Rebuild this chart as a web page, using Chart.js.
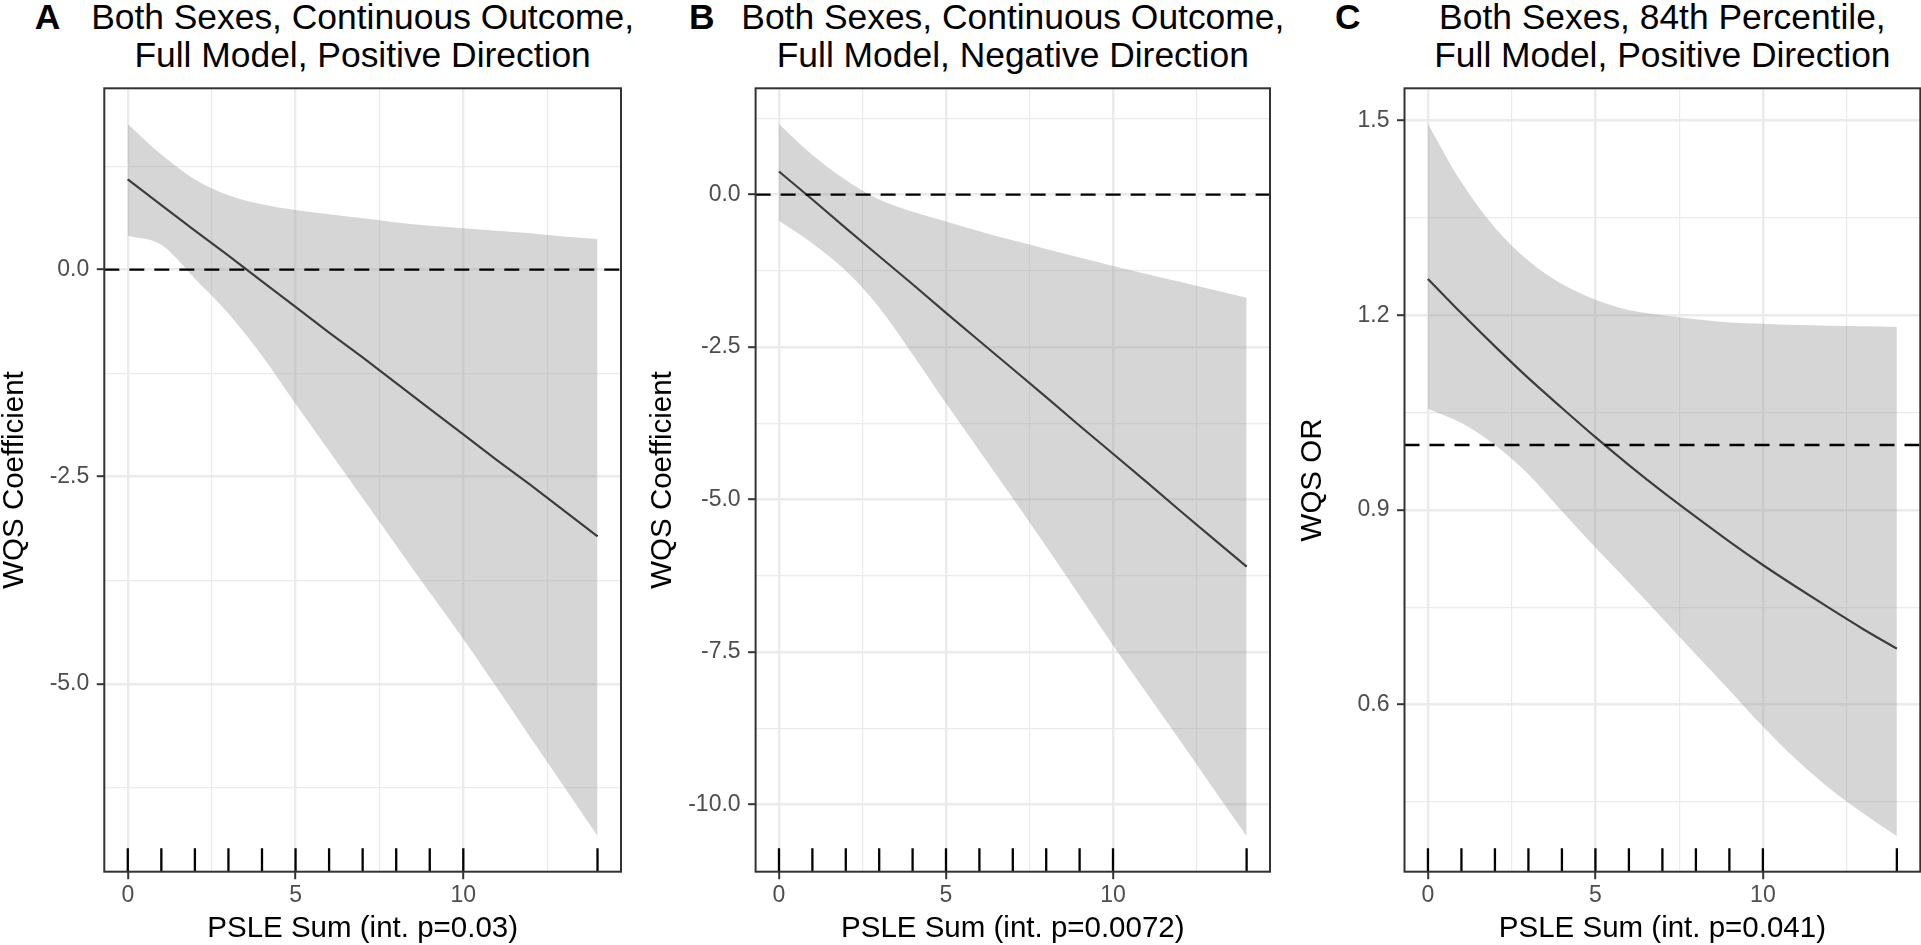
<!DOCTYPE html>
<html>
<head>
<meta charset="utf-8">
<script src="https://cdn.jsdelivr.net/npm/chart.js@4/dist/chart.umd.min.js"></script>
<style>
  html, body { margin:0; padding:0; background:#fff; overflow:hidden; width:1921px; height:945px; }
  canvas { position:absolute; top:0; }
  .tag { position:absolute; top:-2.3px; font:bold 35.4px "Liberation Sans", Arial, sans-serif; line-height:38px; color:#000; }
  .title { position:absolute; top:-2.3px; width:800px; text-align:center; font:35.4px "Liberation Sans", Arial, sans-serif; line-height:38px; color:#000; white-space:nowrap; }
</style>
</head>
<body>
<div class="tag" style="left:34.7px">A</div>
<div class="title" style="left:-37.4px">Both Sexes, Continuous Outcome,<br>Full Model, Positive Direction</div>
<div class="tag" style="left:689px">B</div>
<div class="title" style="left:612.8px">Both Sexes, Continuous Outcome,<br>Full Model, Negative Direction</div>
<div class="tag" style="left:1335px">C</div>
<div class="title" style="left:1262.4px">Both Sexes, 84th Percentile,<br>Full Model, Positive Direction</div>

<canvas id="cA" width="640" height="945" style="left:0px;width:640px;height:945px"></canvas>
<canvas id="cB" width="640" height="945" style="left:640px;width:640px;height:945px"></canvas>
<canvas id="cC" width="641" height="945" style="left:1280px;width:641px;height:945px"></canvas>

<script>
// ---------- data ----------
const xValues = [0,1,2,3,4,5,6,7,8,9,10,11,12,13,14];
const rugValues = [0,1,2,3,4,5,6,7,8,9,10,14];

const xMajorTicks = [0,5,10];
const xMinorTicks = [2.5,7.5,12.5];
const xTickLabels = ['0','5','10'];

// Panel A
const aLine  = [1.09,0.78,0.47,0.17,-0.14,-0.45,-0.76,-1.06,-1.37,-1.68,-1.99,-2.30,-2.60,-2.91,-3.22];
const aUpper = [1.76,1.39,1.09,0.90,0.79,0.72,0.67,0.62,0.57,0.53,0.50,0.47,0.44,0.40,0.37];
const aLower = [0.41,0.30,-0.11,-0.53,-1.04,-1.62,-2.19,-2.76,-3.33,-3.90,-4.46,-5.05,-5.65,-6.24,-6.84];
const aRef = 0;
const aYMajor = [-5,-2.5,0];
const aYMinor = [-6.25,-3.75,-1.25,1.25];
const aYLabels = ['-5.0','-2.5','0.0'];
const aYTitle = 'WQS Coefficient';
const aXTitle = 'PSLE Sum (int. p=0.03)';

// Panel B
const bLine  = [0.38,-0.08,-0.55,-1.01,-1.47,-1.94,-2.40,-2.86,-3.32,-3.79,-4.25,-4.71,-5.18,-5.64,-6.10];
const bUpper = [1.16,0.65,0.24,-0.08,-0.28,-0.44,-0.60,-0.75,-0.89,-1.03,-1.17,-1.30,-1.43,-1.56,-1.69];
const bLower = [-0.43,-0.80,-1.25,-1.85,-2.62,-3.42,-4.20,-4.98,-5.77,-6.58,-7.39,-8.17,-8.95,-9.74,-10.52];
const bRef = 0;
const bYMajor = [-10,-7.5,-5,-2.5,0];
const bYMinor = [-8.75,-6.25,-3.75,-1.25,1.25];
const bYLabels = ['-10.0','-7.5','-5.0','-2.5','0.0'];
const bYTitle = 'WQS Coefficient';
const bXTitle = 'PSLE Sum (int. p=0.0072)';

// Panel C
const cLine  = [1.256,1.203,1.152,1.103,1.057,1.012,0.969,0.928,0.889,0.851,0.815,0.781,0.748,0.716,0.686];
const cUpper = [1.495,1.405,1.335,1.284,1.248,1.224,1.208,1.200,1.194,1.189,1.187,1.185,1.184,1.183,1.182];
const cLower = [1.056,1.034,1.000,0.955,0.898,0.842,0.788,0.733,0.677,0.622,0.566,0.515,0.470,0.432,0.397];
const cRef = 1;
const cYMajor = [0.6,0.9,1.2,1.5];
const cYMinor = [0.45,0.75,1.05,1.35];
const cYLabels = ['0.6','0.9','1.2','1.5'];
const cYTitle = 'WQS OR';
const cXTitle = 'PSLE Sum (int. p=0.041)';

// ---------- rendering ----------
const FONT = '"Liberation Sans", Arial, Helvetica, sans-serif';
const PLOT_TOP = 88.3;
const PLOT_BOTTOM = 871.7;
const CANVAS_H = 945;

const panelPlugin = {
  id: 'panelDecor',
  afterDatasetsDraw(chart, args, opts) {
    const ctx = chart.ctx;
    const a = chart.chartArea;
    const xs = chart.scales.x, ys = chart.scales.y;
    ctx.save();
    const yr = ys.getPixelForValue(opts.ref);
    ctx.beginPath();
    ctx.rect(a.left, a.top, a.right - a.left, a.bottom - a.top);
    ctx.clip();
    ctx.setLineDash([15, 10]);
    ctx.lineCap = 'butt';
    ctx.lineWidth = 2.4;
    ctx.strokeStyle = '#000';
    ctx.beginPath();
    ctx.moveTo(a.left, yr);
    ctx.lineTo(a.right, yr);
    ctx.stroke();
    ctx.setLineDash([]);
    ctx.lineWidth = 2.3;
    const rugLen = 0.03 * (a.bottom - a.top);
    rugValues.forEach(v => {
      const px = xs.getPixelForValue(v);
      ctx.beginPath();
      ctx.moveTo(px, a.bottom);
      ctx.lineTo(px, a.bottom - rugLen);
      ctx.stroke();
    });
    ctx.restore();
    ctx.save();
    ctx.strokeStyle = '#333333';
    ctx.lineWidth = 2;
    ctx.strokeRect(a.left, a.top, a.right - a.left, a.bottom - a.top);
    ctx.restore();
  }
};

function pts(vals) { return xValues.map((x, i) => ({x: x, y: vals[i]})); }

function makePanel(p) {
  const dMax = Math.max(...p.upper), dMin = Math.min(...p.lower);
  const ySpan = dMax - dMin;
  const xSpan = Math.max(...xValues) - Math.min(...xValues);
  const yGrid = [...p.yMajor, ...p.yMinor].sort((u, v) => u - v);
  const xGrid = [...xMajorTicks, ...xMinorTicks].sort((u, v) => u - v);
  new Chart(document.getElementById(p.id), {
    type: 'line',
    data: {
      datasets: [
        { data: pts(p.upper), borderWidth: 0, pointRadius: 0, fill: '+1',
          backgroundColor: 'rgba(153,153,153,0.4)', borderColor: 'rgba(0,0,0,0)',
          cubicInterpolationMode: 'monotone' },
        { data: pts(p.lower), borderWidth: 0, pointRadius: 0, fill: false,
          borderColor: 'rgba(0,0,0,0)', cubicInterpolationMode: 'monotone' },
        { data: pts(p.line), borderWidth: 2.2, pointRadius: 0, fill: false,
          borderColor: '#000', tension: 0,
          cubicInterpolationMode: p.curved ? 'monotone' : 'default' }
      ]
    },
    options: {
      responsive: false,
      animation: false,
      devicePixelRatio: 1,
      events: [],
      layout: { padding: { left: p.padLeft, right: p.padRight, top: PLOT_TOP, bottom: 0 } },
      plugins: {
        legend: { display: false },
        tooltip: { enabled: false },
        panelDecor: { ref: p.ref }
      },
      scales: {
        x: {
          type: 'linear',
          min: Math.min(...xValues) - 0.05 * xSpan,
          max: Math.max(...xValues) + 0.05 * xSpan,
          afterBuildTicks: s => { s.ticks = xGrid.map(v => ({value: v})); },
          afterFit: s => { s.height = CANVAS_H - PLOT_BOTTOM; },
          ticks: {
            autoSkip: false, maxRotation: 0, padding: 3, color: '#4D4D4D',
            font: { family: FONT, size: 23 },
            callback: v => { const i = xMajorTicks.indexOf(v); return i >= 0 ? xTickLabels[i] : ''; }
          },
          grid: {
            color: '#EBEBEB',
            lineWidth: c => (c.tick && xMinorTicks.includes(c.tick.value)) ? 1.2 : 2.4,
            drawTicks: true, tickLength: 7.5, tickWidth: 2,
            tickColor: c => (c.tick && xMinorTicks.includes(c.tick.value)) ? 'rgba(0,0,0,0)' : '#333333'
          },
          border: { display: false },
          title: { display: true, text: p.xTitle, color: '#000',
                   font: { family: FONT, size: 29.5, lineHeight: 1 }, padding: { top: 0, bottom: 1 } }
        },
        y: {
          type: 'linear',
          min: dMin - 0.05 * ySpan,
          max: dMax + 0.05 * ySpan,
          afterBuildTicks: s => { s.ticks = yGrid.map(v => ({value: v})); },
          afterFit: s => { s.width = p.yAxisW; },
          ticks: {
            autoSkip: false, padding: 7.5, color: '#4D4D4D',
            font: { family: FONT, size: 23 },
            callback: v => { const i = p.yMajor.indexOf(v); return i >= 0 ? p.yLabels[i] : ''; }
          },
          grid: {
            color: '#EBEBEB',
            lineWidth: c => (c.tick && p.yMinor.includes(c.tick.value)) ? 1.2 : 2.4,
            drawTicks: true, tickLength: 7.5, tickWidth: 2,
            tickColor: c => (c.tick && p.yMinor.includes(c.tick.value)) ? 'rgba(0,0,0,0)' : '#333333'
          },
          border: { display: false },
          title: { display: true, text: p.yTitle, color: '#000',
                   font: { family: FONT, size: 29.5, lineHeight: 1 }, padding: { top: 0, bottom: 0 } }
        }
      }
    },
    plugins: [panelPlugin]
  });
}

makePanel({ id: 'cA', line: aLine, upper: aUpper, lower: aLower, ref: aRef,
  yMajor: aYMajor, yMinor: aYMinor, yLabels: aYLabels, yTitle: aYTitle, xTitle: aXTitle,
  padLeft: 0, yAxisW: 104.3, padRight: 19, curved: false });
makePanel({ id: 'cB', line: bLine, upper: bUpper, lower: bLower, ref: bRef,
  yMajor: bYMajor, yMinor: bYMinor, yLabels: bYLabels, yTitle: bYTitle, xTitle: bXTitle,
  padLeft: 7.75, yAxisW: 107.85, padRight: 10, curved: false });
makePanel({ id: 'cC', line: cLine, upper: cUpper, lower: cLower, ref: cRef,
  yMajor: cYMajor, yMinor: cYMinor, yLabels: cYLabels, yTitle: cYTitle, xTitle: cXTitle,
  padLeft: 18, yAxisW: 106.5, padRight: 0.7, curved: true });
</script>
</body>
</html>
